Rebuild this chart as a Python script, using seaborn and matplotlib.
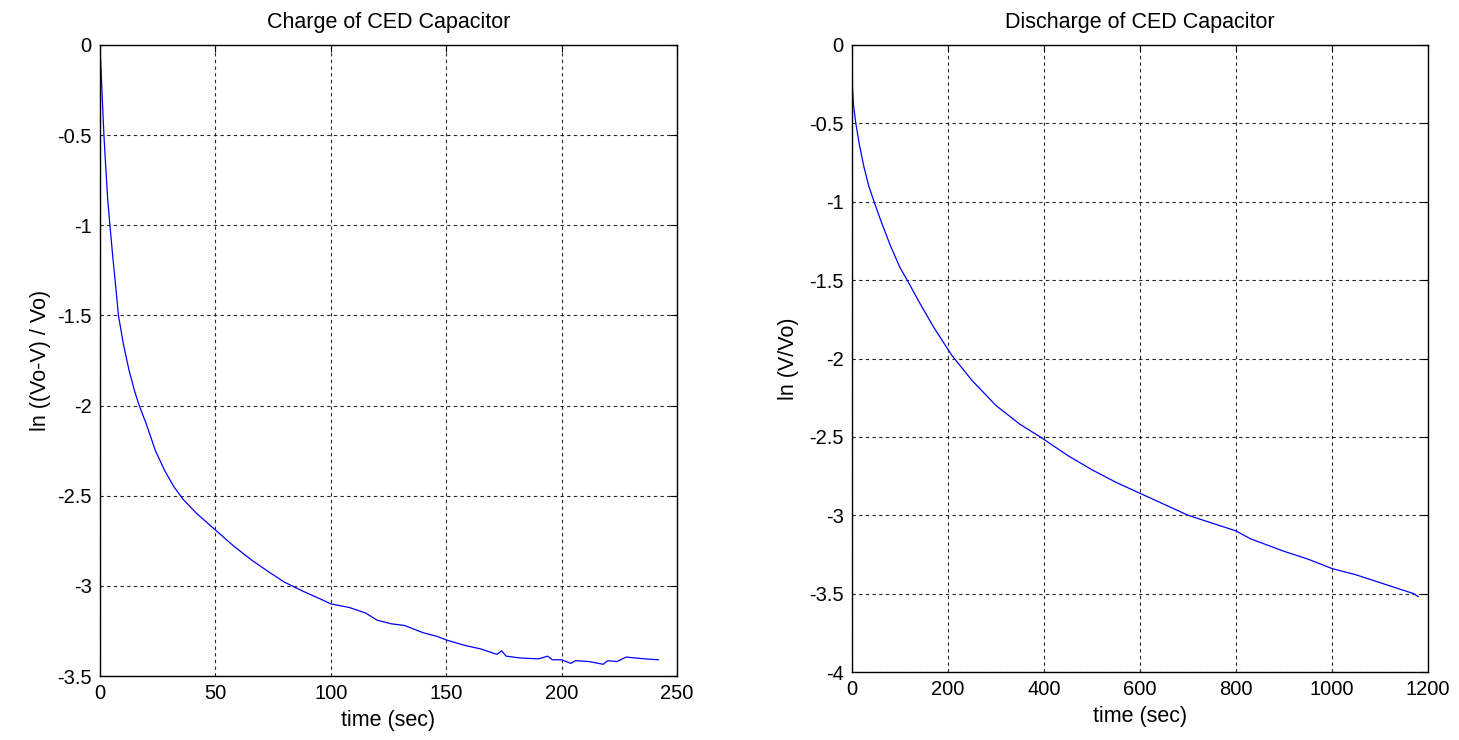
import matplotlib
matplotlib.use("Agg")
import matplotlib.pyplot as plt
import seaborn as sns
from matplotlib.ticker import FuncFormatter, MultipleLocator

charge_t = [0, 0.5, 1, 1.7, 2.5, 3.3, 4.3, 5.5, 6.5, 8, 10, 12.5, 15, 17, 20, 24, 28, 32, 36, 42,
            50, 58, 66, 74, 80, 88, 95, 100, 108, 115, 120, 126, 132, 140, 146, 150, 158, 165, 172,
            174, 176, 182, 190, 194, 196, 200, 204, 206, 212, 218, 220, 224, 228, 232, 236, 242]
charge_v = [0, -0.15, -0.3, -0.5, -0.68, -0.85, -1.0, -1.17, -1.3, -1.5, -1.65, -1.8, -1.92, -2.0,
            -2.1, -2.25, -2.36, -2.45, -2.52, -2.6, -2.69, -2.78, -2.86, -2.93, -2.98, -3.03, -3.07,
            -3.1, -3.12, -3.15, -3.19, -3.21, -3.22, -3.26, -3.28, -3.3, -3.33, -3.35, -3.38, -3.36,
            -3.39, -3.4, -3.405, -3.39, -3.41, -3.41, -3.43, -3.415, -3.42, -3.435, -3.415, -3.42,
            -3.395, -3.40, -3.405, -3.41]

dis_t = [0, 1, 3, 8, 15, 25, 35, 46, 60, 80, 100, 115, 140, 170, 208, 250, 300, 350, 392, 450, 500,
         550, 600, 650, 700, 750, 800, 830, 900, 950, 1000, 1050, 1100, 1150, 1170, 1180]
dis_v = [0, -0.27, -0.38, -0.5, -0.63, -0.78, -0.9, -1.0, -1.12, -1.28, -1.42, -1.5, -1.64, -1.8,
         -1.98, -2.14, -2.3, -2.42, -2.5, -2.62, -2.71, -2.79, -2.86, -2.93, -3.0, -3.05, -3.1,
         -3.15, -3.23, -3.28, -3.34, -3.38, -3.43, -3.48, -3.50, -3.52]

sns.set_style("white")
plt.rcParams['font.family'] = ['Liberation Sans', 'DejaVu Sans']
plt.rcParams['axes.unicode_minus'] = False
plt.rcParams['text.color'] = 'black'
plt.rcParams['axes.labelcolor'] = 'black'

fig = plt.figure(figsize=(14.59, 7.4), dpi=100)
ax1 = fig.add_axes([100/1459, 1-676/740, 577/1459, 631/740])
ax2 = fig.add_axes([852/1459, 1-672/740, 576/1459, 627/740])

sns.lineplot(x=charge_t, y=charge_v, ax=ax1, color=(0, 0, 1), lw=0.9, estimator=None, sort=False)
sns.lineplot(x=dis_t, y=dis_v, ax=ax2, color=(0, 0, 1), lw=0.9, estimator=None, sort=False)

fmt = FuncFormatter(lambda v, p: ('%g' % v) if abs(v) > 1e-9 else '0')
configs = [
    (ax1, (0, 250), (-3.5, 0), 50, 0.5, 'Charge of CED Capacitor', 'ln ((Vo-V) / Vo)', 4),
    (ax2, (0, 1200), (-4, 0), 200, 0.5, 'Discharge of CED Capacitor', 'ln (V/Vo)', 7),
]
for ax, xl, yl, xs, ys, title, ylab, ylp in configs:
    ax.set_xlim(*xl)
    ax.set_ylim(*yl)
    ax.xaxis.set_major_locator(MultipleLocator(xs))
    ax.yaxis.set_major_locator(MultipleLocator(ys))
    ax.xaxis.set_major_formatter(fmt)
    ax.yaxis.set_major_formatter(fmt)
    ax.grid(True, color='black', linestyle=(0, (3, 3)), lw=0.8, alpha=0.85)
    ax.tick_params(direction='in', length=5, width=0.8, top=True, right=True,
                   labelsize=14.5, colors='black')
    ax.tick_params(axis='x', pad=6)
    ax.tick_params(axis='y', pad=6)
    for s in ax.spines.values():
        s.set_color('black')
        s.set_linewidth(1.0)
    ax.set_title(title, fontsize=15.5, pad=12, color='black')
    ax.set_xlabel('time (sec)', fontsize=15.5, labelpad=5)
    ax.set_ylabel(ylab, fontsize=15.5, labelpad=ylp)

fig.savefig('out.png', dpi=100)
